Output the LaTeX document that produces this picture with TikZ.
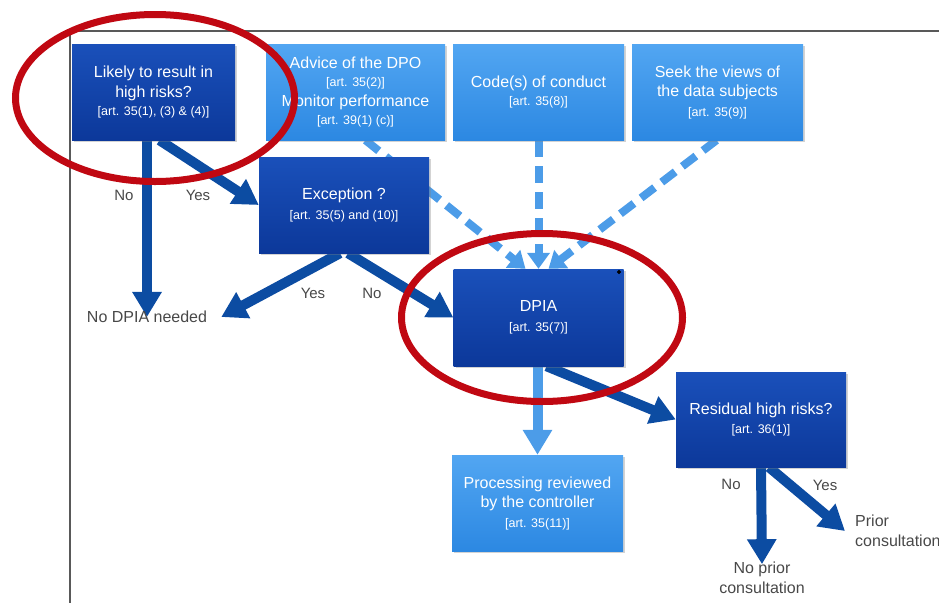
\documentclass[tikz,border=0pt]{standalone}
\usepackage{fontspec}
\setmainfont{Liberation Sans}
\usetikzlibrary{arrows.meta,shadows,backgrounds}

\definecolor{deepblue}{RGB}{12,56,154}
\definecolor{deepbluetop}{RGB}{26,80,186}
\definecolor{skyblue}{RGB}{44,136,226}
\definecolor{skybluetop}{RGB}{82,166,242}
\definecolor{flowdark}{RGB}{12,76,162}
\definecolor{flowlight}{RGB}{76,156,232}
\definecolor{ringred}{RGB}{192,8,18}
\definecolor{labelgray}{RGB}{72,72,72}

\newcommand{\artref}[1]{{\fontsize{12.5}{15}\selectfont #1}}

\begin{document}
\begin{tikzpicture}[x=1pt, y=-1pt,
    box/.style = {rectangle, align=center, text=white, inner sep=2pt,
                  minimum width=171pt, minimum height=96pt,
                  font=\fontsize{16}{19.5}\selectfont,
                  drop shadow={opacity=0.35, shadow xshift=2pt, shadow yshift=-2pt}},
    mainbox/.style = {box, top color=deepbluetop, bottom color=deepblue},
    inputbox/.style = {box, top color=skybluetop, bottom color=skyblue},
    answer/.style = {text=labelgray, font=\fontsize{16}{19.5}\selectfont, align=center, inner sep=2pt},
    yesno/.style = {text=labelgray, font=\fontsize{15}{18}\selectfont},
    arrow/.style = {line width=10pt, flowdark, -{Triangle[width=28pt,length=25pt]}},
    feed/.style = {line width=8pt, flowlight, dash pattern=on 17pt off 9pt,
                   -{Triangle[width=22pt,length=16pt]}},
    review/.style = {line width=10pt, flowlight, -{Triangle[width=28pt,length=25pt]}},
    ring/.style = {line width=7pt, ringred}]
    \useasboundingbox (0,0) rectangle (939,603);

    % frame of the slide
    \draw[line width=2pt, black!65] (939,31) -- (70,31) -- (70,603);

    % boxes
    \node[mainbox, minimum width=163pt] (likely) at (153.5,92) {Likely to result in\\ high risks?\\[-1pt] \artref{[art. 35(1), (3) \& (4)]}};
    \node[inputbox, minimum width=179pt] (advice) at (355.5,92) {Advice of the DPO\\[-2pt] \artref{[art. 35(2)]}\\[1pt] Monitor performance\\[-2pt] \artref{[art. 39(1) (c)]}};
    \node[inputbox] (code) at (538.5,92) {Code(s) of conduct\\[-2pt] \artref{[art. 35(8)]}};
    \node[inputbox] (views) at (717.5,92) {Seek the views of\\ the data subjects\\ \artref{[art. 35(9)]}};
    \node[mainbox, minimum width=170pt] (exception) at (344,205) {Exception ?\\ \artref{[art. 35(5) and (10)]}};
    \node[mainbox, minimum width=170pt, minimum height=97pt] (dpia) at (538.5,317.5) {DPIA\\ \artref{[art. 35(7)]}};
    \node[mainbox, minimum width=170pt, minimum height=95pt] (residual) at (761,419.5) {Residual high risks?\\ \artref{[art. 36(1)]}};
    \node[inputbox] (processing) at (537.5,503) {Processing reviewed\\ by the controller\\ \artref{[art. 35(11)]}};

    % outcomes
    \node[answer] (nodpia) at (147,317) {No DPIA needed};
    \node[answer] (noprior) at (762,578) {No prior\\ consultation};
    \node[answer, anchor=west, align=left] (prior) at (853,531) {Prior\\ consultation};

    % yes / no labels
    \node[yesno] (likelyno) at (124,195) {No};
    \node[yesno] (likelyyes) at (198,195) {Yes};
    \node[yesno] (exceptionyes) at (313,293) {Yes};
    \node[yesno] (exceptionno) at (372,293) {No};
    \node[yesno] (residualno) at (731,484) {No};
    \node[yesno] (residualyes) at (825,485) {Yes};

    \filldraw (619,272) circle (1.8pt);

    % connectors behind the boxes
    \begin{pgfonlayer}{background}
        \draw[feed] ([xshift=10pt]advice.south) -- ([xshift=-13pt]dpia.north);
        \draw[feed] (code.south) -- (dpia.north);
        \draw[feed] ([xshift=-1pt]views.south) -- ([xshift=10pt]dpia.north);

        \draw[arrow] (nodpia.north |- likely.south) -- ([yshift=-8pt]nodpia.north);
        \draw[arrow] ([xshift=6pt]likely.south) -- (exception.west);
        \draw[arrow] ([xshift=-4pt]exception.south) -- ([xshift=12pt]nodpia.east);
        \draw[arrow] ([xshift=4pt]exception.south) -- (dpia.west);
        \draw[review] (processing.north |- dpia.south) -- (processing.north);
        \draw[arrow] ([xshift=8pt]dpia.south) -- (residual.west);
        \draw[arrow] (residual.south) -- ([yshift=-4pt]noprior.north);
        \draw[arrow] ([xshift=8pt]residual.south) -- ([xshift=-8pt]prior.west);
    \end{pgfonlayer}

    % highlights
    \draw[ring] (155,98) ellipse [x radius=139.5, y radius=83.5];
    \draw[ring] (542,317.5) ellipse [x radius=140.5, y radius=84];
\end{tikzpicture}
\end{document}
